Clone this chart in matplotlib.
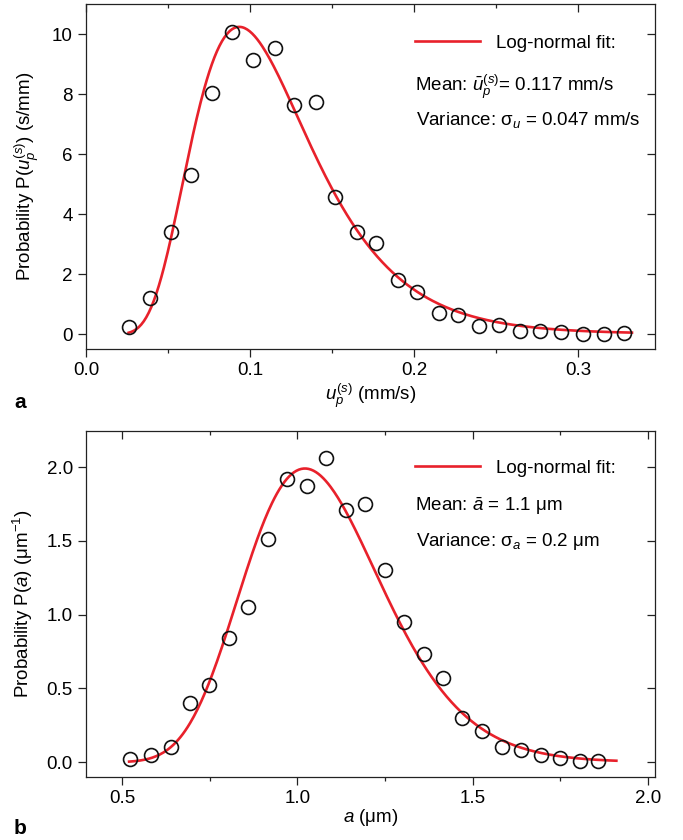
import numpy as np
import matplotlib
matplotlib.use('Agg')
import matplotlib.pyplot as plt

plt.rcParams['font.family'] = ['Liberation Sans', 'DejaVu Sans']
plt.rcParams['mathtext.fontset'] = 'custom'
plt.rcParams['mathtext.rm'] = 'Liberation Sans'
plt.rcParams['mathtext.it'] = 'Liberation Sans:italic'
plt.rcParams['mathtext.bf'] = 'Liberation Sans:bold'
plt.rcParams['font.size'] = 13.5

# panel a: velocity distribution
u_vals = [0.026, 0.039, 0.052, 0.064, 0.077, 0.089, 0.102, 0.115, 0.127, 0.140,
          0.152, 0.165, 0.177, 0.190, 0.202, 0.215, 0.227, 0.240, 0.252, 0.265,
          0.277, 0.290, 0.303, 0.316, 0.328]
pu_vals = [0.25, 1.2, 3.4, 5.3, 8.05, 10.07, 9.13, 9.53, 7.63, 7.75,
           4.57, 3.4, 3.03, 1.8, 1.4, 0.7, 0.65, 0.28, 0.3, 0.1,
           0.1, 0.08, 0.0, 0.0, 0.05]
u_fit_mean, u_fit_sd = 0.117, 0.047
u_fit_range = (0.026, 0.333)

# panel b: size distribution
a_vals = [0.523, 0.583, 0.640, 0.694, 0.748, 0.805, 0.859, 0.916, 0.970, 1.027,
          1.081, 1.138, 1.192, 1.249, 1.303, 1.360, 1.415, 1.471, 1.526, 1.583,
          1.637, 1.694, 1.748, 1.805, 1.859]
pa_vals = [0.02, 0.05, 0.10, 0.40, 0.52, 0.84, 1.05, 1.51, 1.92, 1.87,
           2.06, 1.71, 1.75, 1.30, 0.95, 0.73, 0.57, 0.30, 0.21, 0.10,
           0.08, 0.05, 0.03, 0.01, 0.01]
a_fit_mean, a_fit_sd = 1.08, 0.21
a_fit_range = (0.52, 1.91)

FS = 13.5


def lognormal_fit(mean, sd, lo, hi):
    s2 = np.log(1 + (sd / mean) ** 2)
    mu = np.log(mean) - s2 / 2
    x = np.linspace(lo, hi, 400)
    y = np.exp(-(np.log(x) - mu) ** 2 / (2 * s2)) / (x * np.sqrt(2 * np.pi * s2))
    return x, y


def style_axes(ax):
    for sp in ax.spines.values():
        sp.set_linewidth(0.9)
        sp.set_color('#222222')
    ax.tick_params(which='both', direction='out', top=False, right=False,
                   width=0.9, color='#222222', labelsize=FS)
    ax.tick_params(which='major', length=6)
    ax.tick_params(which='minor', length=3)
    top = ax.secondary_xaxis('top')
    top.set_xticks(ax.get_xticks())
    top.set_xticks(ax.get_xticks(minor=True), minor=True)
    top.tick_params(which='both', direction='in', labeltop=False, width=0.9, color='#222222')
    top.tick_params(which='major', length=6)
    top.tick_params(which='minor', length=3)
    top.spines['top'].set_visible(False)
    right = ax.secondary_yaxis('right')
    right.set_yticks(ax.get_yticks())
    right.tick_params(direction='in', labelright=False, length=6, width=0.9, color='#222222')
    right.spines['right'].set_visible(False)


red = '#e8212b'
fig = plt.figure(figsize=(6.83, 8.4), dpi=100)

# ---- panel a
ax1 = fig.add_axes([0.1259, 0.5845, 0.833, 0.4107])
fx, fy = lognormal_fit(u_fit_mean, u_fit_sd, *u_fit_range)
ax1.plot(fx, fy, color=red, lw=1.9, label='Log-normal fit:')
ax1.plot(u_vals, pu_vals, 'o', mfc='none', mec='#111111', mew=1.2, ms=10)
ax1.set_xlim(0.0, 0.347)
ax1.set_ylim(-0.5, 11.0)
ax1.set_xticks([0.0, 0.1, 0.2, 0.3])
ax1.set_xticks([0.05, 0.15, 0.25], minor=True)
ax1.set_yticks([0, 2, 4, 6, 8, 10])
ax1.set_xlabel(r'$u_p^{(s)}$ (mm/s)', labelpad=2, fontsize=FS)
ax1.set_ylabel(r'Probability P($u_p^{(s)}$) (s/mm)', labelpad=8, fontsize=FS)
style_axes(ax1)
ax1.legend(loc='upper left', bbox_to_anchor=(0.578, 0.912), frameon=False,
           borderpad=0, borderaxespad=0, handlelength=3.45, handletextpad=0.9,
           fontsize=FS)
ax1.text(0.578, 0.76, r'Mean: $\bar{u}_p^{(s)}$= 0.117 mm/s', transform=ax1.transAxes,
         va='center', ha='left', fontsize=FS)
ax1.text(0.58, 0.665, r'Variance: $\mathrm{\sigma}_u$ = 0.047 mm/s', transform=ax1.transAxes,
         va='center', ha='left', fontsize=FS)
fig.text(14 / 683, 1 - 402 / 840, 'a', fontsize=15, fontweight='bold', va='center')

# ---- panel b
ax2 = fig.add_axes([0.1259, 0.075, 0.833, 0.4119])
fx, fy = lognormal_fit(a_fit_mean, a_fit_sd, *a_fit_range)
ax2.plot(fx, fy, color=red, lw=1.9, label='Log-normal fit:')
ax2.plot(a_vals, pa_vals, 'o', mfc='none', mec='#111111', mew=1.2, ms=10)
ax2.set_xlim(0.397, 2.02)
ax2.set_ylim(-0.1, 2.244)
ax2.set_xticks([0.5, 1.0, 1.5, 2.0])
ax2.set_xticks([0.75, 1.25, 1.75], minor=True)
ax2.set_yticks([0.0, 0.5, 1.0, 1.5, 2.0])
ax2.set_xlabel(r'$a$ (μm)', labelpad=0, fontsize=FS)
ax2.set_ylabel(r'Probability P($a$) (μm$^{-1}$)', labelpad=8, fontsize=FS)
style_axes(ax2)
ax2.legend(loc='upper left', bbox_to_anchor=(0.578, 0.918), frameon=False,
           borderpad=0, borderaxespad=0, handlelength=3.45, handletextpad=0.9,
           fontsize=FS)
ax2.text(0.578, 0.784, r'Mean: $\bar{a}$ = 1.1 μm', transform=ax2.transAxes,
         va='center', ha='left', fontsize=FS)
ax2.text(0.58, 0.68, r'Variance: $\mathrm{\sigma}_a$ = 0.2 μm', transform=ax2.transAxes,
         va='center', ha='left', fontsize=FS)
fig.text(14 / 683, 1 - 828 / 840, 'b', fontsize=15, fontweight='bold', va='center')

fig.savefig('out.png', dpi=100)
